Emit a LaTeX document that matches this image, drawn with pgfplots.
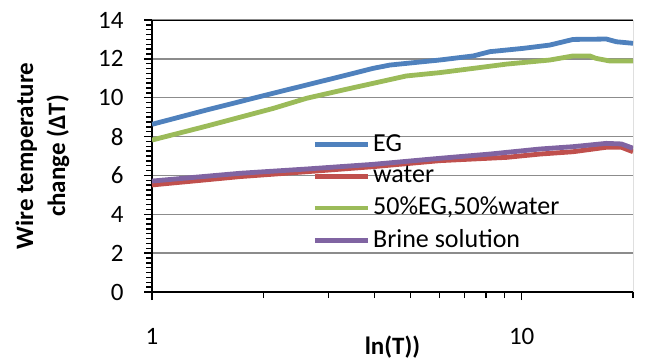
\documentclass[border=0pt]{standalone}
\usepackage{fontspec}
\setmainfont{Carlito}
\usepackage{pgfplots}
\pgfplotsset{compat=1.18}
\definecolor{cEG}{HTML}{4F81BD}
\definecolor{cW}{HTML}{C0504D}
\definecolor{cM}{HTML}{9BBB59}
\definecolor{cB}{HTML}{8064A2}
\begin{document}
\fontsize{25bp}{30bp}\selectfont
\begin{tikzpicture}
\path[use as bounding box] (-152bp,-71bp) rectangle (495bp,292bp);
\begin{axis}[
  at={(0,0)}, anchor=south west,
  scale only axis, width=481bp, height=272bp,
  xmode=log, log basis x=10,
  xmin=1, xmax=20, ymin=0, ymax=14,
  xtick={1,10}, xticklabels={1,10},
  minor xtick={2,3,4,5,6,7,8,9,20},
  ytick={0,2,...,14}, minor y tick num=7,
  /pgf/number format/assume math mode=true,
  ticklabel style={font=\fontsize{25bp}{30bp}\selectfont},
  xticklabel style={yshift=-20bp},
  yticklabel style={xshift=-12bp},
  axis x line*=bottom, axis y line*=left,
  x axis line style={-, line width=1.6bp},
  y axis line style={-, line width=1.6bp},
  tick style={black, line width=1.3bp},
  major tick length=8bp, minor tick length=6bp,
  xtick pos=bottom, ytick pos=left,
  tick align=outside,
  ymajorgrids, major grid style={color=black!45, line width=1.3bp},
  xlabel={\textbf{ln(T))}},
  xlabel style={font=\fontsize{25bp}{30bp}\selectfont, yshift=26bp},
  ylabel={\textbf{Wire temperature}\\\textbf{change (ΔT)}},
  ylabel style={font=\fontsize{25bp}{32bp}\selectfont, align=center, yshift=12bp},
  legend style={draw=none, fill=none, at={(0.333,0.58)}, anchor=north west,
    font=\fontsize{26bp}{30bp}\selectfont, inner sep=0pt, row sep=11bp,
    nodes={inner xsep=3bp, inner ysep=0bp}},
  legend cell align=left,
  legend image code/.code={\draw[#1] (0bp,0bp) -- (53bp,0bp);},
]
\addplot[cEG, line width=4.8bp, line join=round] coordinates {
(1,8.63) (1.406,9.37) (2.128,10.23) (3.221,11.08) (3.963,11.51) (4.395,11.68)
(5.998,11.94) (7.396,12.15) (8.204,12.37) (10.09,12.54) (11.91,12.71) (13.77,13.0)
(16.94,13.02) (18.03,12.88) (20,12.8)};
\addlegendentry{EG}
\addplot[cW, line width=4.8bp, line join=round] coordinates {
(1,5.51) (1.73,5.94) (2.618,6.19) (3.963,6.45) (5.998,6.76) (9.1,6.93)
(11.2,7.1) (13.77,7.22) (16.94,7.45) (18.6,7.45) (20,7.22)};
\addlegendentry{water}
\addplot[cM, line width=4.8bp, line join=round] coordinates {
(1,7.82) (1.406,8.54) (2.128,9.45) (2.618,9.97) (3.221,10.36) (3.963,10.74)
(4.875,11.12) (5.998,11.29) (7.396,11.51) (9.1,11.73) (11.91,11.94) (13.77,12.15)
(15.28,12.15) (15.85,12.03) (17.3,11.89) (20,11.89)};
\addlegendentry{50\%EG,50\%water}
\addplot[cB, line width=4.8bp, line join=round] coordinates {
(1,5.71) (1.73,6.11) (2.618,6.33) (3.963,6.57) (5.998,6.88) (8.204,7.1)
(11.2,7.36) (13.77,7.48) (16.94,7.65) (18.6,7.62) (20,7.4)};
\addlegendentry{Brine solution}
\draw[black, line width=0.9bp] (rel axis cs:0,1) -- (rel axis cs:1,1) -- (rel axis cs:1,0);
\end{axis}
\end{tikzpicture}
\end{document}
